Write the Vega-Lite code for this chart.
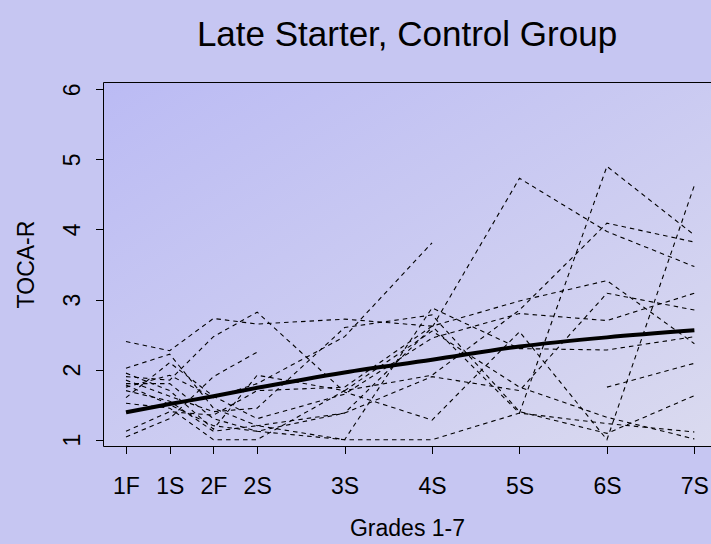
{
  "$schema": "https://vega.github.io/schema/vega-lite/v6.json",
  "width": 608,
  "height": 364,
  "autosize": {"type": "none"},
  "padding": {"left": 103, "top": 82, "right": 0, "bottom": 98},
  "background": "#c6c6f2",
  "config": {
    "font": "Liberation Sans",
    "view": {
      "stroke": null,
      "fill": {"gradient": "linear", "x1": 0, "y1": 0, "x2": 1, "y2": 1,
        "stops": [{"offset": 0, "color": "#bbbbf4"}, {"offset": 1, "color": "#dadaef"}]}
    },
    "axis": {"grid": false, "domainColor": "#000000", "tickColor": "#000000", "labelColor": "#000000", "titleColor": "#000000", "labelFont": "Liberation Sans", "titleFont": "Liberation Sans", "titleFontWeight": "normal"}
  },
  "title": {"text": "Late Starter, Control Group", "fontSize": 35, "fontWeight": "normal", "font": "Liberation Sans", "color": "#000000", "anchor": "middle", "frame": "group", "offset": 37, "baseline": "alphabetic", "dy": 36},
  "datasets": {
    "subjects": [
      {"id": "s1", "g": 1, "v": 2.40}, {"id": "s1", "g": 1.5, "v": 2.27}, {"id": "s1", "g": 2, "v": 2.73}, {"id": "s1", "g": 2.5, "v": 2.65}, {"id": "s1", "g": 3.5, "v": 2.72}, {"id": "s1", "g": 4.5, "v": 2.62}, {"id": "s1", "g": 5.5, "v": 2.98}, {"id": "s1", "g": 6.5, "v": 3.27}, {"id": "s1", "g": 7.5, "v": 2.37},
      {"id": "s2", "g": 1, "v": 2.02}, {"id": "s2", "g": 1.5, "v": 2.22}, {"id": "s2", "g": 2, "v": 1.45}, {"id": "s2", "g": 2.5, "v": 1.20}, {"id": "s2", "g": 3.5, "v": 1.38}, {"id": "s2", "g": 4.5, "v": 2.60}, {"id": "s2", "g": 5.5, "v": 4.73}, {"id": "s2", "g": 6.5, "v": 3.97}, {"id": "s2", "g": 7.5, "v": 3.47},
      {"id": "s3", "g": 1, "v": 1.90}, {"id": "s3", "g": 1.5, "v": 1.85}, {"id": "s3", "g": 2, "v": 2.47}, {"id": "s3", "g": 2.5, "v": 2.82}, {"id": "s3", "g": 3.5, "v": 1.68}, {"id": "s3", "g": 4.5, "v": 1.28}, {"id": "s3", "g": 5.5, "v": 2.54}, {"id": "s3", "g": 6.5, "v": 1.00}, {"id": "s3", "g": 7.5, "v": 4.63},
      {"id": "s4", "g": 1, "v": 1.80}, {"id": "s4", "g": 1.5, "v": 1.80}, {"id": "s4", "g": 2, "v": 1.30}, {"id": "s4", "g": 2.5, "v": 1.12}, {"id": "s4", "g": 3.5, "v": 1.00}, {"id": "s4", "g": 4.5, "v": 1.00}, {"id": "s4", "g": 5.5, "v": 1.38}, {"id": "s4", "g": 6.5, "v": 1.23}, {"id": "s4", "g": 7.5, "v": 1.11},
      {"id": "s5", "g": 1, "v": 1.75}, {"id": "s5", "g": 1.5, "v": 1.92}, {"id": "s5", "g": 2, "v": 1.60}, {"id": "s5", "g": 2.5, "v": 1.80}, {"id": "s5", "g": 3.5, "v": 2.47}, {"id": "s5", "g": 4.5, "v": 3.81},
      {"id": "s6", "g": 1, "v": 1.70}, {"id": "s6", "g": 1.5, "v": 1.55}, {"id": "s6", "g": 2, "v": 1.12}, {"id": "s6", "g": 2.5, "v": 1.20}, {"id": "s6", "g": 3.5, "v": 1.00}, {"id": "s6", "g": 4.5, "v": 2.88}, {"id": "s6", "g": 5.5, "v": 2.30}, {"id": "s6", "g": 6.5, "v": 2.28}, {"id": "s6", "g": 7.5, "v": 2.47},
      {"id": "s7", "g": 1, "v": 1.52}, {"id": "s7", "g": 1.5, "v": 1.45}, {"id": "s7", "g": 2, "v": 1.00}, {"id": "s7", "g": 2.5, "v": 1.00}, {"id": "s7", "g": 3.5, "v": 1.70}, {"id": "s7", "g": 4.5, "v": 1.92}, {"id": "s7", "g": 5.5, "v": 2.85}, {"id": "s7", "g": 6.5, "v": 4.09}, {"id": "s7", "g": 7.5, "v": 3.82},
      {"id": "s8", "g": 1, "v": 1.12}, {"id": "s8", "g": 1.5, "v": 1.40}, {"id": "s8", "g": 2, "v": 1.35}, {"id": "s8", "g": 2.5, "v": 1.70}, {"id": "s8", "g": 3.5, "v": 1.75}, {"id": "s8", "g": 4.5, "v": 2.62}, {"id": "s8", "g": 5.5, "v": 1.38}, {"id": "s8", "g": 6.5, "v": 4.90}, {"id": "s8", "g": 7.5, "v": 3.92},
      {"id": "s9", "g": 1, "v": 1.04}, {"id": "s9", "g": 1.5, "v": 1.30}, {"id": "s9", "g": 2, "v": 1.90}, {"id": "s9", "g": 2.5, "v": 2.25},
      {"id": "s10", "g": 6.5, "v": 1.75}, {"id": "s10", "g": 7.5, "v": 2.09},
      {"id": "s11", "g": 1, "v": 1.95}, {"id": "s11", "g": 1.5, "v": 1.70}, {"id": "s11", "g": 2, "v": 1.15}, {"id": "s11", "g": 2.5, "v": 1.92}, {"id": "s11", "g": 3.5, "v": 1.70}, {"id": "s11", "g": 4.5, "v": 2.55}, {"id": "s11", "g": 5.5, "v": 1.75}, {"id": "s11", "g": 6.5, "v": 1.32}, {"id": "s11", "g": 7.5, "v": 1.01},
      {"id": "s12", "g": 1, "v": 1.85}, {"id": "s12", "g": 1.5, "v": 1.62}, {"id": "s12", "g": 2, "v": 1.40}, {"id": "s12", "g": 2.5, "v": 1.45}, {"id": "s12", "g": 3.5, "v": 2.60}, {"id": "s12", "g": 4.5, "v": 2.78}, {"id": "s12", "g": 5.5, "v": 1.40}, {"id": "s12", "g": 6.5, "v": 1.09}, {"id": "s12", "g": 7.5, "v": 1.63},
      {"id": "s13", "g": 1, "v": 1.78}, {"id": "s13", "g": 1.5, "v": 1.50}, {"id": "s13", "g": 2, "v": 1.20}, {"id": "s13", "g": 2.5, "v": 1.12}, {"id": "s13", "g": 3.5, "v": 1.38}, {"id": "s13", "g": 4.5, "v": 1.90}, {"id": "s13", "g": 5.5, "v": 1.70}, {"id": "s13", "g": 6.5, "v": 3.09}, {"id": "s13", "g": 7.5, "v": 2.85},
      {"id": "s14", "g": 1, "v": 1.60}, {"id": "s14", "g": 1.5, "v": 2.10}, {"id": "s14", "g": 2, "v": 1.62}, {"id": "s14", "g": 2.5, "v": 1.30}, {"id": "s14", "g": 3.5, "v": 1.65}, {"id": "s14", "g": 4.5, "v": 2.45}, {"id": "s14", "g": 5.5, "v": 2.80}, {"id": "s14", "g": 6.5, "v": 2.70}, {"id": "s14", "g": 7.5, "v": 3.09}
    ],
    "mean": [
      {"g": 1, "v": 1.39}, {"g": 1.5, "v": 1.51}, {"g": 2, "v": 1.62}, {"g": 2.5, "v": 1.74}, {"g": 3.5, "v": 1.96}, {"g": 4.5, "v": 2.14}, {"g": 5.5, "v": 2.33}, {"g": 6.5, "v": 2.46}, {"g": 7.5, "v": 2.56}
    ]
  },
  "resolve": {"axis": {"x": "independent", "y": "independent"}},
  "layer": [
    {
      "data": {"name": "subjects"},
      "mark": {"type": "line", "color": "#000000", "strokeWidth": 1.1, "strokeDash": [4.5, 4], "clip": true},
      "encoding": {
        "x": {"field": "g", "type": "quantitative",
          "scale": {"domain": [0.737, 7.69], "nice": false, "zero": false},
          "axis": {"orient": "bottom", "values": [1, 1.5, 2, 2.5, 3.5, 4.5, 5.5, 6.5, 7.5],
            "labelExpr": "datum.value == 1 ? '1F' : datum.value == 1.5 ? '1S' : datum.value == 2 ? '2F' : datum.value == 2.5 ? '2S' : datum.value == 3.5 ? '3S' : datum.value == 4.5 ? '4S' : datum.value == 5.5 ? '5S' : datum.value == 6.5 ? '6S' : '7S'",
            "labelFontSize": 23, "labelBaseline": "alphabetic", "labelPadding": 40, "labelFlush": false, "labelOverlap": false,
            "tickSize": 7.5, "tickWidth": 1, "domain": true, "domainWidth": 1,
            "title": "Grades 1-7", "titleFontSize": 23, "titleBaseline": "alphabetic", "titleX": 304, "titleY": 89, "titleAlign": "center"}},
        "y": {"field": "v", "type": "quantitative",
          "scale": {"domain": [0.91, 6.104], "nice": false, "zero": false},
          "axis": {"values": [1, 2, 3, 4, 5, 6], "labelAngle": 270, "labelAlign": "center", "labelBaseline": "alphabetic",
            "labelFontSize": 23, "labelPadding": 16, "labelFlush": false, "labelOverlap": false,
            "tickSize": 7.5, "tickWidth": 1, "domain": true, "domainWidth": 1,
            "title": "TOCA-R", "titleFontSize": 23, "titleAngle": 270, "titleBaseline": "alphabetic", "titleAlign": "center", "titleX": -70, "titleY": 182}},
        "detail": {"field": "id"}
      }
    },
    {
      "data": {"name": "mean"},
      "mark": {"type": "line", "color": "#000000", "strokeWidth": 4, "interpolate": "monotone", "strokeCap": "butt"},
      "encoding": {
        "x": {"field": "g", "type": "quantitative",
          "axis": {"orient": "top", "labels": false, "ticks": false, "title": null, "domain": true, "domainWidth": 1}},
        "y": {"field": "v", "type": "quantitative", "axis": null}
      }
    }
  ]
}
